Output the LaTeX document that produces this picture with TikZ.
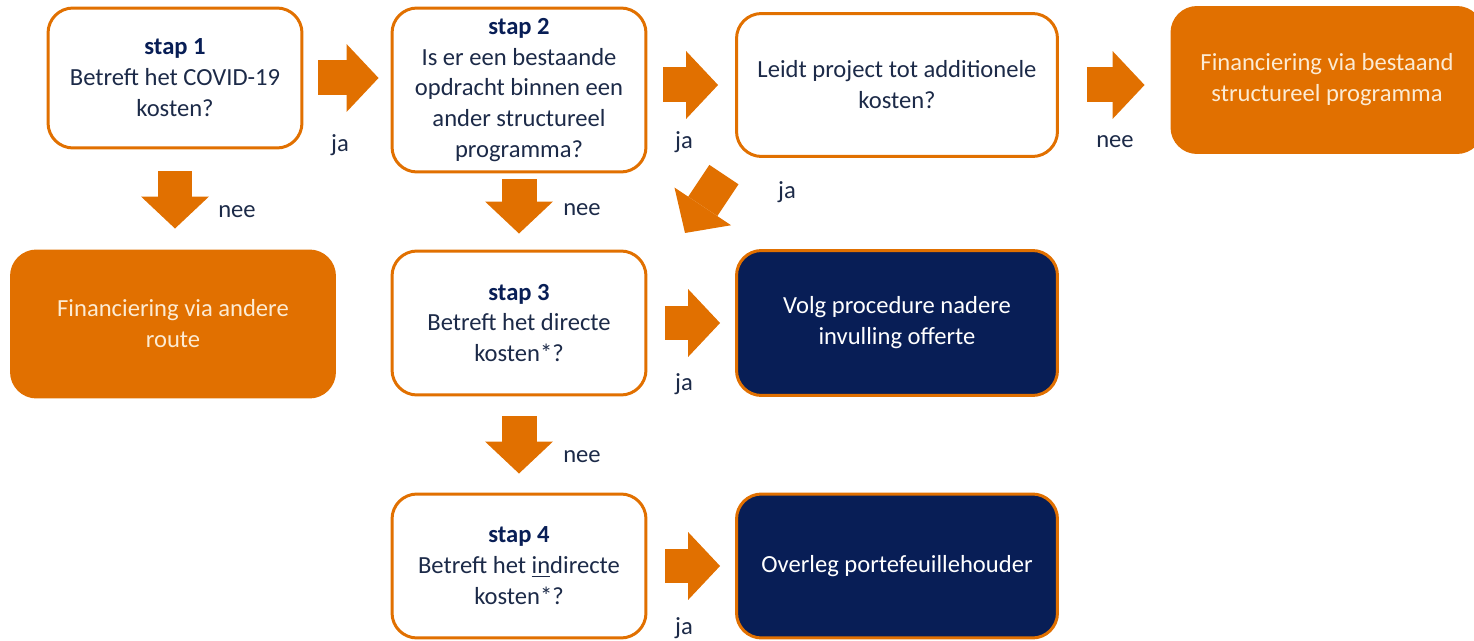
\documentclass[tikz,border=0pt]{standalone}
\usepackage{fontspec}
\setmainfont{Carlito}
\usepackage{xcolor}
\usepackage{tikz}
\usetikzlibrary{arrows.meta}
\definecolor{roOranje}{HTML}{E17000}
\definecolor{roNavy}{HTML}{081E56}
\definecolor{roTekst}{HTML}{1C2A48}
\definecolor{roCreme}{HTML}{FCEBD3}

\begin{document}
\begin{tikzpicture}[x=0.02cm,y=-0.02cm,>={Triangle[length=0.64cm,width=1.36cm,line width=0pt]}]
  \tikzstyle{vraag}=[draw=roOranje,line width=1.7pt,rounded corners=0.5cm,fill=white,align=center,text=roTekst,font=\fontsize{14}{17.6}\selectfont]
  \tikzstyle{uitkomst}=[vraag,fill=roOranje,text=roCreme]
  \tikzstyle{actie}=[vraag,fill=roNavy,text=white]
  \tikzstyle{pijl}=[->,draw=roOranje,line width=0.7cm]
  \tikzstyle{lbl}=[text=roTekst,font=\fontsize{14}{17.6}\selectfont]
  \useasboundingbox (0,0) rectangle (1474,641);
  % vragen
  \node[vraag,minimum width=5.08cm,minimum height=2.8cm] (s1) at (175,78) {\textcolor{roNavy}{\textbf{stap 1}}\\Betreft het COVID-19\\kosten?};
  \node[vraag,minimum width=5.08cm,minimum height=3.28cm] (s2) at (519,90) {\textcolor{roNavy}{\textbf{stap 2}}\\Is er een bestaande\\opdracht binnen een\\ander structureel\\programma?};
  \node[vraag,minimum width=6.42cm,minimum height=2.86cm] (leidt) at (897,85) {Leidt project tot additionele\\kosten?};
  \node[vraag,minimum width=5.08cm,minimum height=2.88cm] (s3) at (519,323) {\textcolor{roNavy}{\textbf{stap 3}}\\Betreft het directe\\kosten*?};
  \node[vraag,minimum width=5.08cm,minimum height=2.88cm] (s4) at (519,566) {\textcolor{roNavy}{\textbf{stap 4}}\\Betreft het \underline{in}directe\\kosten*?};
  % uitkomsten
  \node[uitkomst,minimum width=6.2cm,minimum height=2.9cm] (finbest) at (1327,80) {Financiering via bestaand\\structureel programma};
  \node[uitkomst,minimum width=6.46cm,minimum height=2.92cm] (finand) at (173,324) {Financiering via andere\\route};
  \node[actie,minimum width=6.42cm,minimum height=2.9cm] (volg) at (897,323) {Volg procedure nadere\\invulling offerte};
  \node[actie,minimum width=6.42cm,minimum height=2.88cm] (overleg) at (897,566) {Overleg portefeuillehouder};
  % pijlen
  \coordinate (jatip) at (685,233);
  \draw[pijl,shorten <=0.3cm,shorten >=0.24cm] (s1.east) -- (s1.east -| s2.west);
  \draw[pijl,shorten <=0.32cm,shorten >=0.34cm] (s2.east |- leidt.west) -- (leidt.west);
  \draw[pijl,shorten <=0.56cm,shorten >=0.52cm] (leidt.east) -- (leidt.east -| finbest.west);
  \draw[pijl,shorten <=0.44cm,shorten >=0.42cm] (s1.south) -- (s1.south |- finand.north);
  \draw[pijl,shorten <=0.12cm,shorten >=0.32cm] (s2.south) -- (s3.north);
  \draw[pijl,shorten <=0.4cm] (leidt.south west) -- (jatip);
  \draw[pijl,shorten <=0.36cm,shorten >=0.3cm] (s3.east) -- (volg.west);
  \draw[pijl,shorten <=0.4cm,shorten >=0.38cm] (s3.south) -- (s4.north);
  \draw[pijl,shorten <=0.36cm,shorten >=0.3cm] (s4.east) -- (overleg.west);
  % labels
  \node[lbl] (ja1) at (340,145) {ja};
  \node[lbl] (ja2) at (684,142) {ja};
  \node[lbl] (nee1) at (1115,142) {nee};
  \node[lbl] (nee2) at (237,212) {nee};
  \node[lbl] (nee3) at (582,210) {nee};
  \node[lbl] (ja3) at (787,192) {ja};
  \node[lbl] (ja4) at (684,384) {ja};
  \node[lbl] (nee4) at (582,457) {nee};
  \node[lbl] (ja5) at (684,628) {ja};
\end{tikzpicture}
\end{document}
